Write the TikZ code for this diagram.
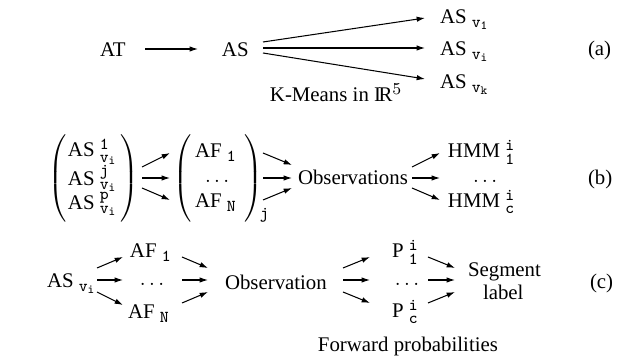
\documentclass[tikz,border=0pt]{standalone}
\usepackage{fontspec}
\setmainfont{Liberation Serif}
\usepackage{amsmath}
\DeclareMathSizes{10}{10}{8}{6}
\usetikzlibrary{arrows.meta}
\newcommand{\myLP}{$\nulldelimiterspace=0pt\delimiterfactor=1000\delimitershortfall=0pt\left(\vrule height 21.5pt depth 16.5pt width 0pt\right.$}
\newcommand{\myRP}{$\nulldelimiterspace=0pt\delimiterfactor=1000\delimitershortfall=0pt\left.\vrule height 21.5pt depth 16.5pt width 0pt\right)$}
\tikzset{
  txt/.style={inner sep=0pt, outer sep=0pt, font=\fontsize{10}{12}\selectfont},
  bw/.style={txt, anchor=base west},
  arr/.style={-{Latex[length=4pt,width=2.6pt]}, line width=0.5pt},
}
\begin{document}
\begin{tikzpicture}[x=0.48pt,y=-0.48pt]
\useasboundingbox (0,0) rectangle (625,360);
% ---------- row (a)
\node[bw] (at) at (100,57) {AT};
\node[bw] (as) at (222,57) {AS};
\node[bw] (asv1) at (440,24) {AS $_{\mathtt{v_1}}$};
\node[bw] (asvi) at (440,56) {AS $_{\mathtt{v_i}}$};
\node[bw] (asvk) at (440,89) {AS $_{\mathtt{v_k}}$};
\node[bw] (km) at (270,102) {K-Means in I\kern-.12em R$^{5}$};
\node[bw] (la) at (588,56) {(a)};
\draw[arr] ([shift={(45,-8)}]at.base west) -- ([shift={(-24,-8)}]as.base west);
\draw[arr] ([shift={(41,-15)}]as.base west) -- ([shift={(-15,-6)}]asv1.base west);
\draw[arr] ([shift={(41,-9)}]as.base west) -- ([shift={(-15,-8)}]asvi.base west);
\draw[arr] ([shift={(41,-4)}]as.base west) -- ([shift={(-15,-10)}]asvk.base west);
% ---------- row (b)
\node[txt] (lp1) at (58,178) {\myLP};
\node[bw] (as1) at (68,157) {AS $^{\mathtt 1}_{\mathtt{v_i}}$};
\node[bw] (as2) at (68,186) {AS $^{\mathtt j}_{\mathtt{v_i}}$};
\node[bw] (as3) at (68,210) {AS $^{\mathtt p}_{\mathtt{v_i}}$};
\node[txt] (rp1) at (130,178) {\myRP};
\node[txt] (lp2) at (183,178) {\myLP};
\node[bw] (af1) at (195,158) {AF $_{\mathtt 1}$};
\node[bw] (afd) at (205,183) {$\ldots$};
\node[bw] (afN) at (195,208) {AF $_{\mathtt N}$};
\node[txt] (rp2) at (254,178) {\myRP};
\node[bw] (jj) at (260,219) {$\scriptstyle\mathtt j$};
\node[bw] (obs) at (298,185) {Observations};
\node[bw] (hmm1) at (448,158) {HMM $^{\mathtt i}_{\mathtt 1}$};
\node[bw] (hmmd) at (473,183) {$\ldots$};
\node[bw] (hmmc) at (448,208) {HMM $^{\mathtt i}_{\mathtt c}$};
\node[bw] (lb) at (588,185) {(b)};
\draw[arr] ([shift={(12,-11)}]rp1.center) -- ([shift={(-13,-25)}]lp2.center);
\draw[arr] ([shift={(12,0)}]rp1.center) -- ([shift={(-13,0)}]lp2.center);
\draw[arr] ([shift={(12,10)}]rp1.center) -- ([shift={(-13,22)}]lp2.center);
\draw[arr] ([shift={(9,-25)}]rp2.center) -- ([shift={(-6,-20)}]obs.base west);
\draw[arr] ([shift={(9,0)}]rp2.center) -- ([shift={(-6,-7)}]obs.base west);
\draw[arr] ([shift={(9,22)}]rp2.center) -- ([shift={(-6,3)}]obs.base west);
\draw[arr] ([shift={(114,-18)}]obs.base west) -- ([shift={(-8,-5)}]hmm1.base west);
\draw[arr] ([shift={(114,-7)}]obs.base west) -- ([shift={(-33,-5)}]hmmd.base west);
\draw[arr] ([shift={(114,3)}]obs.base west) -- ([shift={(-8,-8)}]hmmc.base west);
% ---------- row (c)
\node[bw] (asc) at (47,288) {AS $_{\mathtt{v_i}}$};
\node[bw] (af1c) at (130,258) {AF $_{\mathtt 1}$};
\node[bw] (afdc) at (140,286) {$\ldots$};
\node[bw] (afNc) at (128,319) {AF $_{\mathtt N}$};
\node[bw] (obsc) at (225,290) {Observation};
\node[bw] (p1) at (392,258) {P $^{\mathtt i}_{\mathtt 1}$};
\node[bw] (pd) at (395,286) {$\ldots$};
\node[bw] (pc) at (392,318) {P $^{\mathtt i}_{\mathtt c}$};
\node[bw] (seg) at (468,277) {Segment};
\node[bw] (lab) at (483,300) {label};
\node[bw] (lc) at (590,289) {(c)};
\node[bw] (fwd) at (318,352) {Forward probabilities};
\draw[arr] ([shift={(50,-20)}]asc.base west) -- ([shift={(-7,-1)}]af1c.base west);
\draw[arr] ([shift={(50,-8)}]asc.base west) -- ([shift={(-17,-6)}]afdc.base west);
\draw[arr] ([shift={(50,4)}]asc.base west) -- ([shift={(-5,-14)}]afNc.base west);
\draw[arr] ([shift={(52,-1)}]af1c.base west) -- ([shift={(-17,-22)}]obsc.base west);
\draw[arr] ([shift={(42,-6)}]afdc.base west) -- ([shift={(-17,-10)}]obsc.base west);
\draw[arr] ([shift={(54,-16)}]afNc.base west) -- ([shift={(-17,2)}]obsc.base west);
\draw[arr] ([shift={(118,-22)}]obsc.base west) -- ([shift={(-22,-1)}]p1.base west);
\draw[arr] ([shift={(118,-10)}]obsc.base west) -- ([shift={(-25,-6)}]pd.base west);
\draw[arr] ([shift={(118,2)}]obsc.base west) -- ([shift={(-22,-15)}]pc.base west);
\draw[arr] ([shift={(36,-1)}]p1.base west) -- ([shift={(-13,-9)}]seg.base west);
\draw[arr] ([shift={(33,-6)}]pd.base west) -- ([shift={(-13,3)}]seg.base west);
\draw[arr] ([shift={(36,-15)}]pc.base west) -- ([shift={(-28,-8)}]lab.base west);
\end{tikzpicture}
\end{document}
